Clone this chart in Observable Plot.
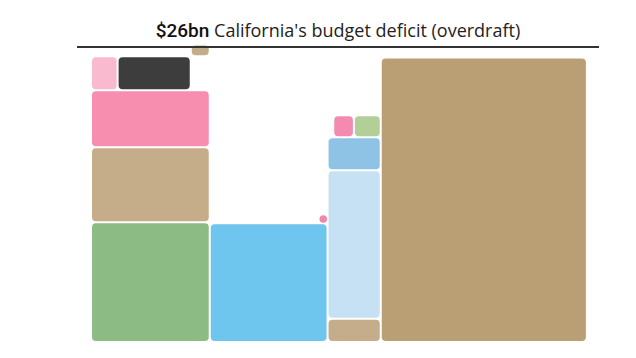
<!DOCTYPE html>
<html><head><meta charset="utf-8">
<script src="https://cdn.jsdelivr.net/npm/d3@7"></script>
<script src="https://cdn.jsdelivr.net/npm/@observablehq/plot@0.6"></script>
<style>
html,body{margin:0;padding:0;background:#fff;}
#wrap{position:relative;width:636px;height:358px;overflow:hidden;font-family:"Open Sans",sans-serif;}
#title{position:absolute;left:77px;width:522px;top:18px;text-align:center;font-size:18px;color:#222;white-space:nowrap;font-weight:400;}
#title b{font-family:Roboto,sans-serif;font-weight:500;font-size:19px;color:#111;}
#rule{position:absolute;left:77px;width:522px;top:46px;height:2px;background:#333;}
.tab{position:absolute;top:0;height:2px;}
#chart{position:absolute;left:0;top:0;}
</style></head><body>
<div id="wrap">
<div class="tab" style="left:115px;width:80px;background:#e4e4e4"></div>
<div class="tab" style="left:205px;width:67px;background:#c9c9c9"></div>
<div id="chart"></div>
<div id="title"></div>
<div id="rule"></div>
</div>
<script>
// ---- data ($bn) ----
const totalLabel = "$26bn";
const titleText = "California's budget deficit (overdraft)";
const categories = ["deficit","green","tan","pink","lightpink","darkgray","smalltan",
                    "blue","dot","tan2","lightblue","medblue","smallpink","smallgreen"];
const values = [26, 6.3, 3.95, 3.0, 0.4, 1.1, 0.1,
                6.2, 0.02, 0.55, 3.5, 0.78, 0.2, 0.26];
const colors = ["#bb9f74","#8cbb84","#c6ad8a","#f78daf","#f9bad0","#3d3d3d","#c3ad89",
                "#6ec5ee","#f088aa","#c5ac8a","#c6e1f3","#8fc3e6","#f48ab0","#b2cf97"];

document.getElementById("title").innerHTML = `<b>${totalLabel}</b> ${titleText}`;

// ---- layout (unit² = $1bn) ----
const s = 47.5;          // px per unit
const ORIGIN_X = 91, BASE_Y = 342, W = 636, H = 358;
const columns = [
  {w: 2.5,  rows: [{items:[1]},{items:[2]},{items:[3]},{items:[4,5], w:2.1},{items:[6], w:0.4, align:"right"}]},
  {w: 2.48, rows: [{items:[7]},{dot:8}]},
  {w: 1.12, rows: [{items:[9]},{items:[10]},{items:[11]},{items:[12,13], w:1.0, align:"right"}]},
  {w: 4.34, rows: [{items:[0]}]}
];
const rects = [], dots = [];
let x0 = 0;
for (const col of columns) {
  let y = 0;
  for (const row of col.rows) {
    if (row.dot !== undefined) {
      const i = row.dot;
      const rpx = Math.sqrt(values[i] * s * s / Math.PI);
      dots.push({name: categories[i], x: x0 + col.w - (rpx + 1) / s, y: y + (rpx + 1) / s, r: rpx, color: colors[i]});
      continue;
    }
    const rw = row.w ?? col.w;
    const sum = d3.sum(row.items, i => values[i]);
    const h = sum / rw;
    let x = x0 + (row.align === "right" ? col.w - rw : 0);
    for (const i of row.items) {
      const w = values[i] / h;
      rects.push({name: categories[i], value: values[i], x1: x, x2: x + w, y1: y, y2: y + h, color: colors[i]});
      x += w;
    }
    y += h;
  }
  x0 += col.w;
}

const chart = Plot.plot({
  width: W, height: H, margin: 0,
  style: {background: "#fff"},
  x: {domain: [-ORIGIN_X / s, (W - ORIGIN_X) / s], range: [0, W], axis: null},
  y: {domain: [-(H - BASE_Y) / s, BASE_Y / s], range: [H, 0], axis: null},
  color: {type: "identity"},
  r: {type: "identity"},
  marks: [
    Plot.rect(rects, {x1: "x1", x2: "x2", y1: "y1", y2: "y2", fill: "color", inset: 1, rx: 4}),
    Plot.dot(dots, {x: "x", y: "y", r: "r", fill: "color", stroke: null})
  ]
});
document.getElementById("chart").appendChild(chart);
</script>
</body></html>
